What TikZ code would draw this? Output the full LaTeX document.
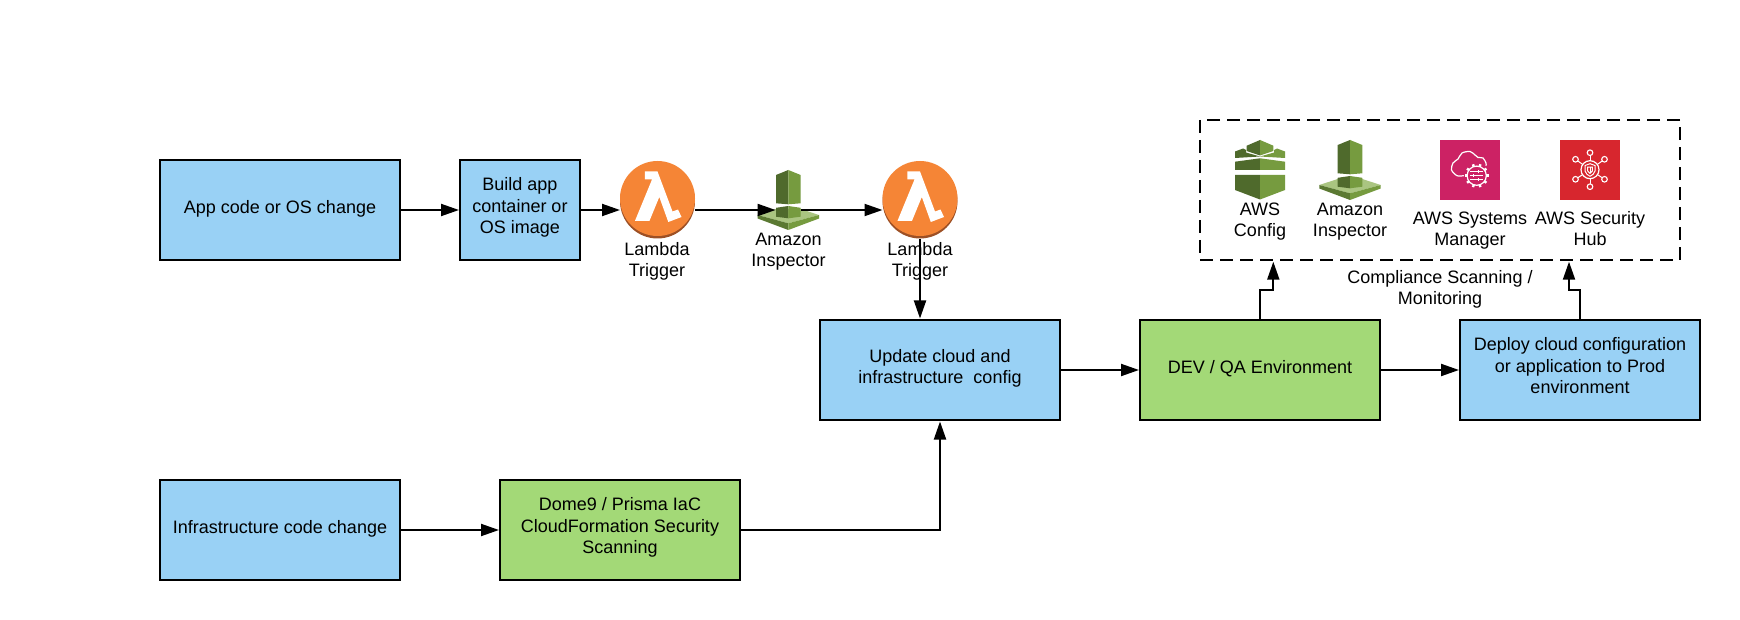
\documentclass[tikz,border=0pt]{standalone}
\usepackage{fontspec}
\setmainfont{Liberation Sans}
\usetikzlibrary{arrows.meta}
\definecolor{boxblue}{HTML}{99D1F5}
\definecolor{boxgreen}{HTML}{A3D977}
\definecolor{lamorange}{HTML}{F58536}
\definecolor{lamlip}{HTML}{9D5025}
\definecolor{awsdark}{HTML}{4F6A2C}
\definecolor{awsmid}{HTML}{769B3F}
\definecolor{awslight}{HTML}{AAC581}
\definecolor{ssmpink}{HTML}{CC2264}
\definecolor{hubred}{HTML}{D7262E}
\tikzset{
  txt/.style={font=\fontsize{18}{21.6}\selectfont,align=center,inner sep=0pt,outer sep=0pt},
  flowbox/.style={txt,draw=black,line width=2pt,minimum height=100pt},
  one/.style={text depth=7pt},
  two/.style={text depth=7.2pt},
  three/.style={text depth=8.3pt},
  blue/.style={fill=boxblue},
  green/.style={fill=boxgreen},
  iconlabel/.style={txt,anchor=base},
  conn/.style={line width=2pt,-{Triangle[length=18pt,width=12pt]}},
  whiteline/.style={draw=white,line width=1.2pt,fill=none}
}
\newcommand{\lambdaicon}[3]{%
  \fill[lamlip] (#2,#3+2.5) circle[radius=37.5pt];
  \node[circle,fill=lamorange,minimum size=75pt,inner sep=0pt,outer sep=0pt] (#1) at (#2,#3) {};
  \begin{scope}[shift={(#2,#3)}]
    \fill[white] (-12.6,-27) -- (0,-27) -- (15,13) -- (20.5,11) -- (24,18.5) -- (10.8,23.5) -- (1.8,-1.5) -- (-8,22.3) -- (-22.5,22.3) -- (-5.5,-19) -- (-12.6,-19) -- cycle;
  \end{scope}}
\newcommand{\inspectoricon}[2]{%
  \begin{scope}[shift={(#1,#2)}]
    \fill[awsdark] (0,-30) -- (-12.3,-25) -- (-12.3,3.3) -- (0,4.3) -- cycle;
    \fill[awsmid] (0,-30) -- (12.3,-25) -- (12.3,3.3) -- (0,4.3) -- cycle;
    \fill[awslight] (-30.7,15) -- (-12.3,9) -- (12.3,9) -- (30.7,15) -- (0,23.3) -- cycle;
    \fill[awsdark] (0,6) -- (-12.3,7.8) -- (-12.3,16.7) -- (0,18.3) -- cycle;
    \fill[awsmid] (0,6) -- (12.3,7.8) -- (12.3,16.7) -- (0,18.3) -- cycle;
    \fill[awsdark!70!awsmid] (-30.7,15) -- (0,23.3) -- (0,30) -- (-30.7,18.5) -- cycle;
    \fill[awsmid] (30.7,15) -- (0,23.3) -- (0,30) -- (30.7,18.5) -- cycle;
  \end{scope}}
\newcommand{\configicon}[2]{%
  \begin{scope}[shift={(#1,#2)}]
    \fill[awsdark] (-25,5) -- (0,5) -- (0,29.5) -- (-25,20) -- cycle;
    \fill[awsmid] (25,5) -- (0,5) -- (0,29.5) -- (25,20) -- cycle;
    \fill[awsdark] (-25,-8.3) -- (0,-11.7) -- (0,0) -- (-25,0) -- cycle;
    \fill[awsmid] (25,-8.3) -- (0,-11.7) -- (0,0) -- (25,0) -- cycle;
    \fill[awsdark] (-25,-18.5) -- (-17,-21.5) -- (-14,-20) -- (-14,-17.5) -- (0,-13.5) -- (-25,-12) -- cycle;
    \fill[awsmid] (25,-18.5) -- (17,-21.5) -- (14,-20) -- (14,-17.5) -- (0,-13.5) -- (25,-12) -- cycle;
    \fill[awsdark] (0,-30) -- (-13.3,-24.3) -- (-13.3,-19) -- (0,-14.5) -- cycle;
    \fill[awsmid] (0,-30) -- (13.3,-24.3) -- (13.3,-19) -- (0,-14.5) -- cycle;
  \end{scope}}
\newcommand{\ssmicon}[2]{%
  \begin{scope}[shift={(#1,#2)}]
    \fill[ssmpink] (-30,-30) rectangle (30,30);
    \draw[whiteline,line cap=round] plot[smooth] coordinates {(-6.5,5.7) (-13,5.7) (-18.5,0) (-17,-7) (-12,-11) (-8,-17) (0,-18.5) (5,-15) (8,-12.5) (13,-12) (16,-7) (16,-4.5)};
    \fill[ssmpink] (6.7,5.7) circle[radius=11pt];
    \foreach \a in {0,36,...,324} {\draw[white,line width=2.4pt] (6.7,5.7) ++(\a:9.5) -- ++(\a:2.5);}
    \fill[ssmpink] (6.7,5.7) ++(0,0) circle[radius=8.8pt];
    \draw[whiteline] (6.7,5.7) circle[radius=9.6pt];
    \draw[white,line width=1pt] (0,1.7) -- (13.4,1.7) (0,5.7) -- (13.4,5.7) (0,9.7) -- (13.4,9.7);
    \draw[white,line width=1pt] (8.5,0.2) -- (8.5,3.2) (3.8,4.2) -- (3.8,7.2) (8.5,8.2) -- (8.5,11.2);
  \end{scope}}
\newcommand{\hubicon}[2]{%
  \begin{scope}[shift={(#1,#2)}]
    \fill[hubred] (-30,-30) rectangle (30,30);
    \foreach \px/\py in {0/-17.3,0/16.7,-14.5/-10.7,14.5/-10.7,-14.5/9.3,14.5/9.3} {
      \draw[white,line width=1pt] (0,-0.3) -- (\px,\py);
      \filldraw[draw=white,fill=hubred,line width=1.1pt] (\px,\py) circle[radius=2.8pt];
    }
    \filldraw[draw=white,fill=hubred,line width=1.2pt] (0,-0.3) circle[radius=9pt];
    \draw[white,line width=1pt] (-5,-4.5) -- (0,-6.3) -- (5,-4.5) -- (5,1) .. controls (4.5,4) and (2,5) .. (0,6.3) .. controls (-2,5) and (-4.5,4) .. (-5,1) -- cycle;
    \draw[white,line width=1pt] (-2.3,-2.8) -- (2.3,-2.8) -- (2.3,1) .. controls (2,2.3) and (1,3) .. (0,3.5) .. controls (-1,3) and (-2,2.3) .. (-2.3,1) -- cycle;
    \draw[white,line width=.8pt] (0,-2.8) -- (0,3.5);
  \end{scope}}
\begin{document}
\begin{tikzpicture}[x=1pt,y=-1pt]
  \useasboundingbox (0,0) rectangle (1740,620);
  \fill[white] (0,0) rectangle (1740,620);

  % boxes
  \node[flowbox,blue,one,minimum width=240pt] (app) at (280,210) {App code or OS change};
  \node[flowbox,blue,three,minimum width=120pt] (build) at (520,210) {Build app\\container or\\OS image};
  \node[flowbox,blue,one,minimum width=240pt] (infra) at (280,530) {Infrastructure code change};
  \node[flowbox,green,three,minimum width=240pt] (dome) at (620,530) {Dome9 / Prisma IaC\\CloudFormation Security\\Scanning};
  \node[flowbox,blue,two,minimum width=240pt] (update) at (940,370) {Update cloud and\\infrastructure~ config};
  \node[flowbox,green,one,minimum width=240pt] (dev) at (1260,370) {DEV / QA Environment};
  \node[flowbox,blue,three,minimum width=240pt] (deploy) at (1580,370) {Deploy cloud configuration\\or application to Prod\\environment};

  % dashed frame
  \node[draw=black,line width=2pt,dash pattern=on 13pt off 7pt,minimum width=480pt,minimum height=140pt,inner sep=0pt,outer sep=0pt] (scanbox) at (1440,190) {};

  % icon labels
  \node[iconlabel] (lamlabel1) at (657,276.8) {Lambda\\Trigger};
  \node[iconlabel] (lamlabel2) at (920,276.8) {Lambda\\Trigger};
  \node[iconlabel] (insplabel1) at (788.5,266.8) {Amazon\\Inspector};
  \node[iconlabel] (configlabel) at (1260,236.8) {AWS\\Config};
  \node[iconlabel] (insplabel2) at (1350,236.8) {Amazon\\Inspector};
  \node[iconlabel] (ssmlabel) at (1470,245.8) {AWS Systems\\Manager};
  \node[iconlabel] (hublabel) at (1590,245.8) {AWS Security\\Hub};
  \node[iconlabel] (scanlabel) at (1440,304.8) {Compliance Scanning /\\Monitoring};

  % icons
  \inspectoricon{788.3}{200}
  \node[minimum width=25.4pt,minimum height=2pt,inner sep=0pt,outer sep=0pt] (insp1) at (788.3,210) {};
  \configicon{1260}{170}
  \inspectoricon{1350}{170}
  \ssmicon{1470}{170}
  \hubicon{1590}{170}
  \lambdaicon{lam1}{657.5}{198.5}
  \lambdaicon{lam2}{920}{198.5}

  % connectors
  \draw[conn,shorten >=1pt] (app.east) -- (build.west);
  \draw[conn] (build.east) -- (lam1.west |- build.east);
  \draw[conn] (lam1.east |- insp1.west) -- (insp1.west);
  \draw[conn] (insp1.east) -- (lam2.west |- insp1.east);
  \draw[conn,shorten <=3pt,shorten >=1.5pt] (lam2.south) -- (lam2.south |- update.north);
  \draw[conn,shorten >=1pt] (infra.east) -- (dome.west);
  \draw[conn,shorten >=1.5pt] (dome.east) -| (update.south);
  \draw[conn,shorten >=1pt] (update.east) -- (dev.west);
  \draw[conn,shorten >=1pt] (dev.east) -- (deploy.west);
  \coordinate (scanin1) at (1273.3,261.7);
  \coordinate (scanin2) at (1569,261.7);
  \draw[conn] (dev.north) -- (1260,290) -| (scanin1);
  \draw[conn] (deploy.north) -- (1580,290) -| (scanin2);
\end{tikzpicture}
\end{document}
